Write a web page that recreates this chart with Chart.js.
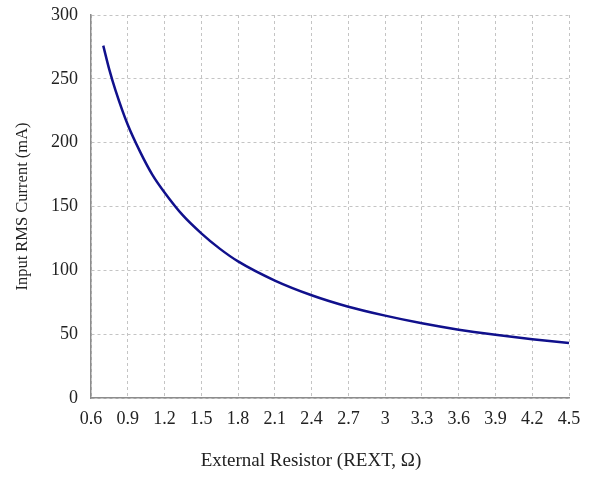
<!DOCTYPE html>
<html>
<head>
<meta charset="utf-8">
<script src="https://cdn.jsdelivr.net/npm/chart.js@4"></script>
<style>
  html, body { margin: 0; padding: 0; background: #fff; }
  #wrap { width: 596px; height: 480px; }
</style>
</head>
<body>
<div id="wrap"><canvas id="currentChart" width="596" height="480"></canvas></div>
<script>
// values
const resistance = [0.7, 0.75, 0.8, 0.9, 1.0, 1.1, 1.2, 1.35, 1.5, 1.65, 1.8, 2.1, 2.4, 2.7, 3.0, 3.3, 3.6, 3.9, 4.2, 4.5];
const rmsCurrent = [276, 257, 241, 214, 193, 175, 161, 143, 129, 117, 107, 92, 80.5, 71.5, 64.5, 58.5, 53.5, 49.5, 46, 43];
const xTicks = [0.6, 0.9, 1.2, 1.5, 1.8, 2.1, 2.4, 2.7, 3, 3.3, 3.6, 3.9, 4.2, 4.5];
const yTicks = [0, 50, 100, 150, 200, 250, 300];

const serif = 'Liberation Serif, Times New Roman, serif';
const ctx = document.getElementById('currentChart').getContext('2d');

new Chart(ctx, {
    type: 'line',
    data: {
        datasets: [{
            label: 'Input RMS Current',
            data: resistance.map((r, i) => ({ x: r, y: rmsCurrent[i] })),
            borderColor: '#10108c',
            borderWidth: 2.5,
            pointRadius: 0,
            cubicInterpolationMode: 'monotone',
            fill: false,
        }]
    },
    options: {
        responsive: false,
        animation: false,
        layout: { padding: { top: 15, right: 27, bottom: 0, left: 0 } },
        plugins: {
            legend: { display: false },
            tooltip: { enabled: false },
        },
        scales: {
            x: {
                type: 'linear',
                min: 0.6,
                max: 4.5,
                afterBuildTicks: s => { s.ticks = xTicks.map(v => ({ value: v })); },
                afterFit: s => { s.height = 82; },
                ticks: {
                    color: '#222',
                    font: { family: serif, size: 18 },
                    padding: 10,
                    maxRotation: 0,
                    autoSkip: false,
                    callback: v => String(v),
                },
                grid: { color: '#c4c4c4', drawTicks: false },
                border: { color: '#8c8c8c', width: 1.5, dash: [3, 3] },
                title: {
                    display: true,
                    // trailing spaces nudge the centred title left like the original
                    text: 'External Resistor (REXT, Ω)' + '\u2002'.repeat(4),
                    color: '#222',
                    font: { family: serif, size: 19 },
                    padding: { top: 0, bottom: 8 },
                },
            },
            y: {
                min: 0,
                max: 300,
                afterBuildTicks: s => { s.ticks = yTicks.map(v => ({ value: v })); },
                afterFit: s => { s.width = 91; s.paddingTop = 0; s.paddingBottom = 0; },
                ticks: {
                    color: '#222',
                    font: { family: serif, size: 18 },
                    padding: 13,
                },
                grid: { color: '#c4c4c4', drawTicks: false },
                border: { color: '#8c8c8c', width: 1.5, dash: [3, 3] },
                title: {
                    display: true,
                    text: 'Input RMS Current (mA)',
                    color: '#222',
                    font: { family: serif, size: 16.5 },
                    padding: { top: 13, bottom: 0 },
                },
            }
        }
    }
});
</script>
</body>
</html>
